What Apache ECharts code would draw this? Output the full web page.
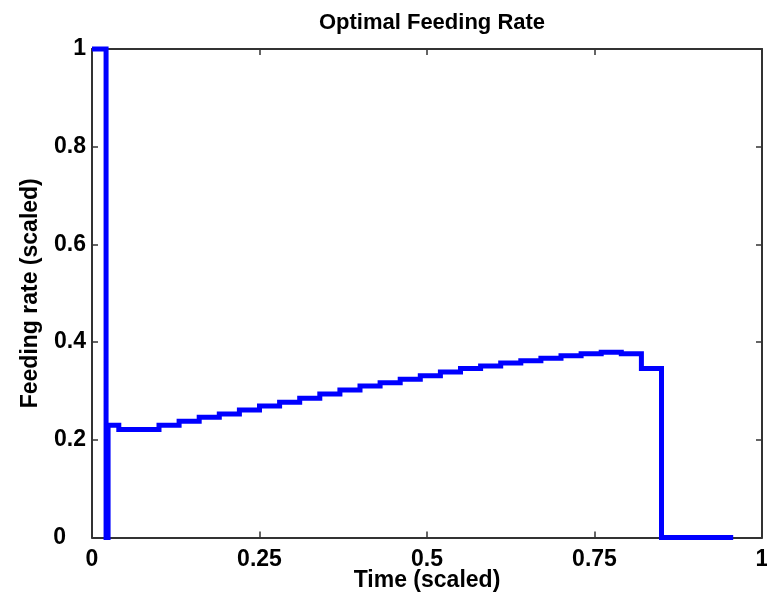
<!DOCTYPE html>
<html>
<head>
<meta charset="utf-8">
<script src="https://cdn.jsdelivr.net/npm/echarts@6/dist/echarts.min.js"></script>
<style>html,body{margin:0;padding:0;background:#fff}#c{width:767px;height:599px}</style>
</head>
<body>
<div id="c"></div>
<script>
// Step start times (scaled) and the feeding-rate value held from each time until the next
const stepTimes = [0, 0.021, 0.024, 0.04, 0.07, 0.1, 0.13, 0.16, 0.19, 0.22, 0.25, 0.28, 0.31, 0.34, 0.37, 0.40, 0.43, 0.46, 0.49, 0.52, 0.55, 0.58, 0.61, 0.64, 0.67, 0.70, 0.73, 0.76, 0.79, 0.82, 0.85, 0.957];
const stepValues = [1, 0, 0.230, 0.221, 0.221, 0.230, 0.238, 0.246, 0.253, 0.261, 0.269, 0.277, 0.285, 0.294, 0.302, 0.310, 0.317, 0.324, 0.331, 0.339, 0.346, 0.351, 0.357, 0.362, 0.367, 0.372, 0.376, 0.379, 0.376, 0.346, 0, 0];
const xTicks = [0, 0.25, 0.5, 0.75, 1];
const yTicks = [0, 0.2, 0.4, 0.6, 0.8, 1];

const chart = echarts.init(document.getElementById('c'));
const font = '"Liberation Sans", Arial, sans-serif';
const frame = {show: true, onZero: false, lineStyle: {color: '#333', width: 2}};
const tickIn = {show: true, inside: true, length: 6, lineStyle: {color: '#333', width: 1.5}};
chart.setOption({
  animation: false,
  backgroundColor: '#fff',
  title: {
    text: 'Optimal Feeding Rate', left: 427, top: 7, textAlign: 'center',
    textStyle: {fontFamily: font, fontWeight: 'bold', fontSize: 22, color: '#000'}
  },
  grid: {left: 92, right: 5, top: 49, bottom: 61.5, containLabel: false, outerBoundsMode: 'none'},
  xAxis: [{
    type: 'value', min: 0, max: 1, interval: 0.25, position: 'bottom',
    axisLine: frame, axisTick: tickIn, splitLine: {show: false},
    axisLabel: {fontFamily: font, fontWeight: 'bold', fontSize: 23, color: '#000', margin: 11,
      formatter: v => xTicks.includes(v) ? String(v) : ''},
    name: 'Time (scaled)', nameLocation: 'middle', nameGap: 32, nameMoveOverlap: false,
    nameTextStyle: {fontFamily: font, fontWeight: 'bold', fontSize: 23, color: '#000'}
  }, {
    type: 'value', min: 0, max: 1, interval: 0.25, position: 'top',
    axisLine: frame, axisTick: tickIn, axisLabel: {show: false}, splitLine: {show: false}
  }],
  yAxis: [{
    type: 'value', min: 0, max: 1, interval: 0.2, position: 'left',
    axisLine: frame, axisTick: tickIn, splitLine: {show: false},
    axisLabel: {fontFamily: font, fontWeight: 'bold', fontSize: 23, color: '#000', margin: 6,
      formatter: v => { if (Math.abs(v) < 1e-9) return '{z|0}'; return String(+v.toFixed(1)); },
      rich: {z: {fontFamily: font, fontWeight: 'bold', fontSize: 23, color: '#000', padding: [0, 20, 0, 0]}}},
    name: 'Feeding rate (scaled)', nameLocation: 'middle', nameGap: 50,
    nameTextStyle: {fontFamily: font, fontWeight: 'bold', fontSize: 23, color: '#000'}
  }, {
    type: 'value', min: 0, max: 1, interval: 0.2, position: 'right',
    axisLine: frame, axisTick: tickIn, axisLabel: {show: false}, splitLine: {show: false}
  }],
  series: [{
    type: 'custom',
    coordinateSystem: 'cartesian2d',
    data: stepTimes.map((t, i) => [t, stepValues[i]]),
    encode: {x: 0, y: 1},
    z: 1,
    renderItem: function (params, api) {
      if (params.dataIndex !== 0) return null;
      const pts = [];
      for (let i = 0; i < stepTimes.length; i++) {
        pts.push(api.coord([stepTimes[i], stepValues[i]]));
        if (i + 1 < stepTimes.length) pts.push(api.coord([stepTimes[i + 1], stepValues[i]]));
      }
      return {
        type: 'polyline',
        shape: {points: pts},
        style: {stroke: '#0000ff', lineWidth: 5, fill: null, lineJoin: 'miter', lineCap: 'butt'}
      };
    }
  }]
});
</script>
</body>
</html>
